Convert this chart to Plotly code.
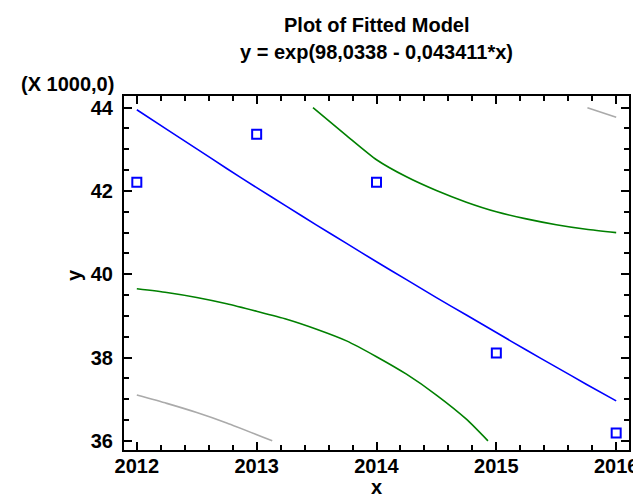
import plotly.graph_objects as go

# observed data
obs_x = [2012, 2013, 2014, 2015, 2016]
obs_y = [42210, 43360, 42210, 38110, 36190]

# fitted model y = exp(98,0338 - 0,043411*x)
fit_x = [2012, 2012.25, 2012.5, 2012.75, 2013, 2013.25, 2013.5, 2013.75, 2014,
         2014.25, 2014.5, 2014.75, 2015, 2015.25, 2015.5, 2015.75, 2016]
fit_y = [43950, 43480, 43010, 42540, 42080, 41630, 41180, 40740, 40300,
         39870, 39440, 39020, 38600, 38180, 37770, 37360, 36960]

# inner limits (green)
conf_lo_x = [2012, 2012.25, 2012.5, 2012.75, 2013, 2013.25, 2013.5, 2013.75, 2014,
             2014.25, 2014.5, 2014.75, 2014.93]
conf_lo_y = [39650, 39560, 39440, 39290, 39110, 38920, 38680, 38400, 38020,
             37600, 37100, 36520, 36000]
conf_hi_x = [2013.47, 2013.75, 2014, 2014.25, 2014.5, 2014.75, 2015,
             2015.25, 2015.5, 2015.75, 2016]
conf_hi_y = [44000, 43330, 42750, 42340, 42010, 41730, 41500,
             41330, 41190, 41080, 41000]

# outer limits (gray)
pred_lo_x = [2012, 2012.25, 2012.5, 2012.75, 2013.13]
pred_lo_y = [37100, 36900, 36680, 36430, 36000]
pred_hi_x = [2015.76, 2016]
pred_hi_y = [44000, 43770]

y_ticks = [36000, 38000, 40000, 42000, 44000]
y_ticktext = ["36", "38", "40", "42", "44"]
x_ticks = [2012, 2013, 2014, 2015, 2016]

FONT = dict(family="Liberation Sans, Arial, sans-serif", size=20, color="black", weight="bold")

fig = go.Figure()
for xs, ys, col in [(pred_lo_x, pred_lo_y, "#aaaaaa"), (pred_hi_x, pred_hi_y, "#aaaaaa"),
                    (conf_lo_x, conf_lo_y, "#008000"), (conf_hi_x, conf_hi_y, "#008000"),
                    (fit_x, fit_y, "#0000ff")]:
    fig.add_trace(go.Scatter(x=xs, y=ys, mode="lines", hoverinfo="skip",
                             line=dict(color=col, width=1.6, shape="spline", smoothing=0.6)))
fig.add_trace(go.Scatter(x=obs_x, y=obs_y, mode="markers",
                         marker=dict(symbol="square-open", size=9, color="#0000ff",
                                     line=dict(width=2, color="#0000ff"))))

axis_common = dict(showline=True, linewidth=2, linecolor="black", mirror="ticks",
                   ticks="inside", ticklen=8, tickwidth=2, tickcolor="black",
                   showgrid=False, zeroline=False, tickfont=FONT)
fig.update_xaxes(range=[2011.893, 2016.107], tickvals=x_ticks,
                 minor=dict(ticks="inside", ticklen=5, tickwidth=2, dtick=0.2,
                            tick0=2012, showgrid=False),
                 ticklabelstandoff=-3, **axis_common)
fig.update_yaxes(range=[35780, 44280], tickvals=y_ticks, ticktext=y_ticktext,
                 minor=dict(ticks="inside", ticklen=5, tickwidth=2, dtick=500,
                            showgrid=False),
                 ticklabelstandoff=5, **axis_common)

fig.add_annotation(text="Plot of Fitted Model", x=0.5, y=(442 - 17) / 354, xref="paper",
                   yref="paper", showarrow=False, font=FONT, yanchor="middle")
fig.add_annotation(text="y = exp(98,0338 - 0,043411*x)", x=0.5, y=(442 - 44) / 354,
                   xref="paper", yref="paper", showarrow=False, font=FONT, yanchor="middle")
fig.add_annotation(text="(X 1000,0)", x=(108 - 116) / 514, y=(442 - 76) / 354, xref="paper",
                   yref="paper", showarrow=False, font=FONT, xanchor="right", yanchor="middle")
fig.add_annotation(text="y", x=(65 - 116) / 514, y=(442 - 267) / 354, xref="paper",
                   yref="paper", showarrow=False, font=FONT, textangle=-90,
                   xanchor="center", yanchor="middle")
fig.add_annotation(text="x", x=0.5, y=(442 - 491) / 354, xref="paper", yref="paper",
                   showarrow=False, font=FONT, yanchor="bottom", borderpad=0)

fig.update_layout(width=641, height=497, showlegend=False, plot_bgcolor="white",
                  paper_bgcolor="white", margin=dict(l=116, r=11, t=88, b=55))
fig.write_html("out.html")
